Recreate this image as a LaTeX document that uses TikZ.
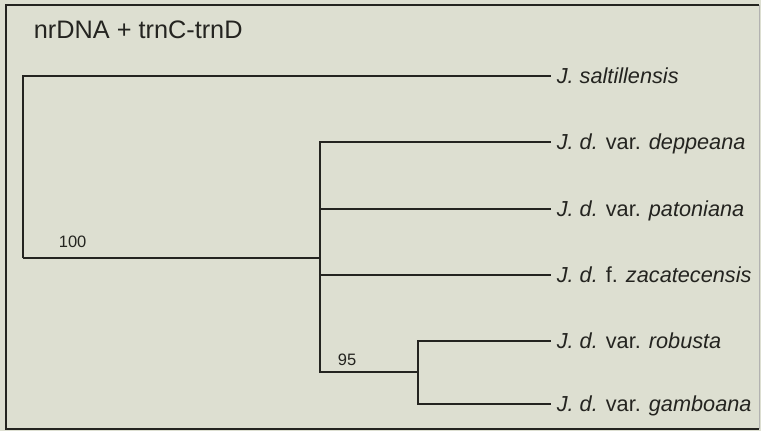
\documentclass[tikz,border=0pt]{standalone}
\usepackage{fontspec}
\setmainfont{Liberation Sans}
\usepackage{xcolor}
\usepackage{tikz}

\definecolor{paper}{RGB}{221,223,209}
\definecolor{ink}{RGB}{36,36,32}

\begin{document}
\begin{tikzpicture}[x=1pt, y=-1pt, line width=1.7pt, draw=ink, text=ink,
      taxon/.style={anchor=west, inner xsep=5pt, inner ysep=0pt,
        text height=15.5pt, text depth=0pt, font=\fontsize{21.7}{24}\selectfont},
      support/.style={anchor=base west, inner sep=0pt, font=\fontsize{16.5}{18}\selectfont}
      ]
      \fill[paper] (0,0) rectangle (761,431);
      \useasboundingbox (0,0) rectangle (761,431);
      \draw[line width=1.3pt] (759,5) -| (6,429) -- (759,429);
      \draw[line width=0.8pt, ink!35] (759,5) -- (759,429);

      \node[anchor=west, inner sep=0pt, font=\fontsize{25.3}{27}\selectfont] (title) at (33,30) {nrDNA + trnC-trnD};

      % internal nodes
      \coordinate (root) at (23,258);
      \coordinate (clade) at (320,258);
      \coordinate (sub) at (418,372);

      % leaves
      \node[taxon] (salt) at (551,76) {\textit{J. saltillensis}};
      \node[taxon] (depp) at (551,142) {\textit{J. d.} var. \textit{deppeana}};
      \node[taxon] (pato) at (551,209) {\textit{J. d.} var. \textit{patoniana}};
      \node[taxon] (zaca) at (551,275) {\textit{J. d.} f. \textit{zacatecensis}};
      \node[taxon] (robu) at (551,341) {\textit{J. d.} var. \textit{robusta}};
      \node[taxon] (gamb) at (551,404) {\textit{J. d.} var. \textit{gamboana}};

      \draw (root) |- (salt.west);
      \draw (root) -- (clade);
      \draw (clade) |- (depp.west);
      \draw (clade) |- (pato.west);
      \draw (clade) |- (zaca.west);
      \draw (clade) |- (sub);
      \draw (sub) |- (robu.west);
      \draw (sub) |- (gamb.west);

      \node[support] (b100) at (58,247) {100};
      \node[support] (b95) at (337,365) {95};
    \end{tikzpicture}
\end{document}
